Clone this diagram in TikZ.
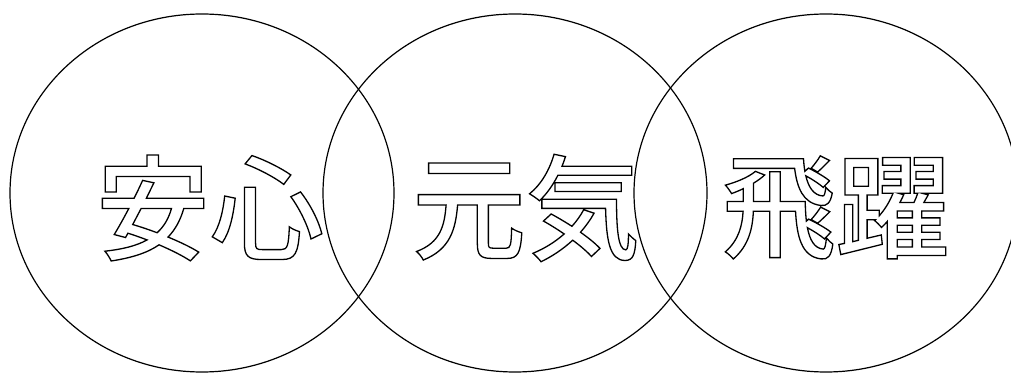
\documentclass[tikz,border=0pt]{standalone}
\usepackage{fontspec}
\newfontfamily\jpfont{Noto Sans CJK JP Medium}
\newcommand{\outlinetext}[1]{\special{pdf:literal direct 1 Tr 1.3 w}#1\special{pdf:literal direct 0 Tr}}
\tikzset{
  ring/.style={draw=black, line width=1.2pt},
  word/.style={inner sep=0pt, font=\jpfont\fontsize{114}{114}\selectfont}
}
\begin{document}
\begin{tikzpicture}[x=1pt,y=1pt]
\useasboundingbox (0,0) rectangle (1011,372);
\draw[ring] (202,179) ellipse [x radius=192, y radius=179];
\draw[ring] (515,179) ellipse [x radius=192, y radius=179];
\draw[ring] (826,179) ellipse [x radius=192, y radius=179];
\node[word] (t1) at (210,164) {\outlinetext{安心}};
\node[word] (t2) at (526,164) {\outlinetext{元気}};
\node[word] (t3) at (836,164) {\outlinetext{飛躍}};
\end{tikzpicture}
\end{document}
